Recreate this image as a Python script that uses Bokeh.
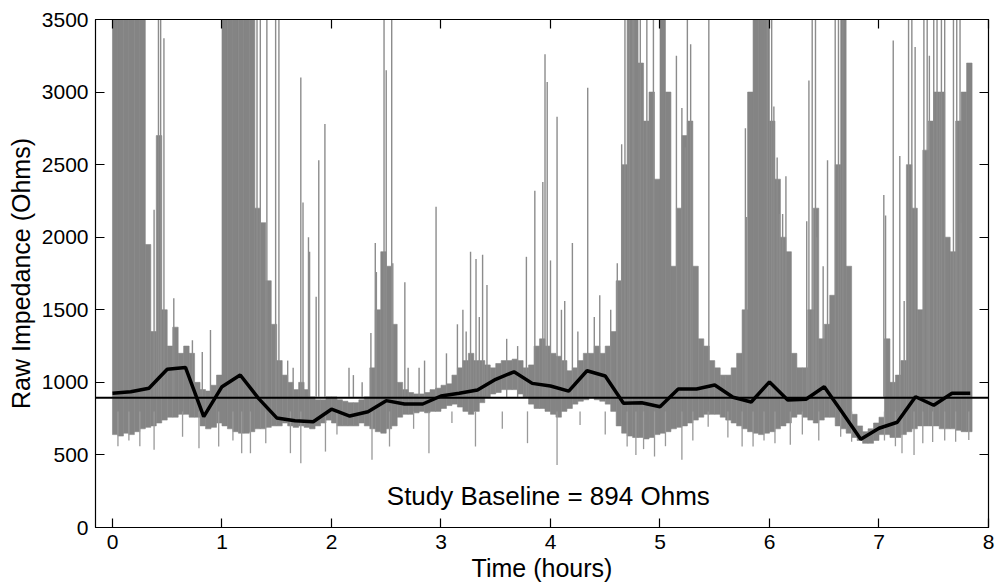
from bokeh.plotting import figure
from bokeh.models import Range1d, LinearAxis, Span, ColumnDataSource
from bokeh.core.properties import value
from bokeh.embed import file_html
from bokeh.resources import INLINE

# ---------------- data ----------------
# dense raw-impedance band, 0.05 h bins starting at t = 0.00 h (upper / lower edge of the solid gray mass)
band_hi = [
    3500, 3500, 3500, 3500, 3500, 3500, 1950, 1350, 2700, 1500, 1250, 1380, 1200, 1250, 1200, 1000, 950, 940, 980, 1050,   # 0 h
    3500, 3500, 3500, 3500, 3500, 3500, 2200, 2100, 1700, 1400, 1150, 1050, 1000, 950, 1000, 950, 900, 880, 880, 900,      # 1 h
    900, 880, 870, 860, 860, 880, 900, 1100, 1500, 1900, 1800, 1400, 1000, 950, 930, 920, 920, 930, 950, 960,              # 2 h
    980, 990, 1050, 1100, 1150, 1200, 1150, 1150, 1120, 1100, 1130, 1150, 1150, 1160, 1150, 1100, 1120, 1250, 1300, 1250,  # 3 h
    1200, 1180, 1150, 1080, 1100, 1150, 1200, 1200, 1250, 1200, 1250, 1350, 1700, 2500, 3500, 3500, 3200, 2800, 3000, 2400,  # 4 h
    3500, 3000, 1800, 2200, 2700, 2800, 1800, 1300, 1250, 1150, 1100, 1050, 1050, 1100, 1200, 1500, 3000, 3500, 3500, 3500,  # 5 h
    2800, 2400, 2000, 1900, 1200, 1100, 1100, 1500, 2200, 1300, 1400, 1600, 2500, 3500, 1800, 780, 700, 660, 680, 720,     # 6 h
    760, 1300, 1000, 1050, 1150, 2500, 2200, 1500, 2600, 2800, 3000, 3000, 2000, 1900, 2800, 3000, 3200,                   # 7 h
]
band_lo = [
    640, 630, 650, 640, 660, 680, 690, 700, 720, 740, 760, 760, 780, 780, 760, 760, 700, 680, 690, 720,
    700, 680, 660, 650, 650, 660, 680, 680, 690, 700, 700, 720, 700, 690, 700, 690, 680, 700, 720, 740,
    720, 700, 700, 700, 700, 720, 700, 680, 660, 650, 680, 700, 760, 780, 780, 790, 800, 790, 800, 800,
    820, 840, 850, 830, 800, 780, 800, 860, 900, 920, 930, 950, 950, 950, 920, 900, 850, 820, 820, 800,
    780, 760, 800, 820, 850, 870, 880, 900, 880, 870, 850, 800, 700, 650, 630, 620, 620, 610, 620, 640,
    650, 660, 680, 690, 700, 720, 740, 760, 780, 780, 780, 760, 740, 720, 700, 680, 660, 650, 640, 650,
    660, 680, 700, 720, 760, 780, 760, 740, 720, 740, 760, 760, 700, 680, 650, 620, 600, 580, 580, 600,
    640, 640, 620, 620, 640, 660, 680, 700, 700, 700, 700, 680, 680, 680, 670, 660, 660,
]

# isolated tall excursions (time h, peak Ohms)
spike_t = [0.38, 0.42, 0.44, 0.47, 0.56, 0.73, 0.82, 0.895, 1.32, 1.35, 1.41, 1.49, 1.52, 1.60, 1.65,
           1.72, 1.74, 1.79, 1.80, 1.86, 1.884, 1.94, 2.16, 2.20, 2.28, 2.36, 2.40, 2.41, 2.48, 2.50,
           2.55, 2.56, 2.67, 2.70, 2.80, 2.85, 2.955, 3.05, 3.15, 3.20, 3.23, 3.27, 3.32, 3.35, 3.38,
           3.42, 3.60, 3.70, 3.78, 3.857, 3.93, 3.95, 3.97, 4.00, 4.06, 4.10, 4.13, 4.20, 4.25, 4.34,
           4.40, 4.45, 4.55, 4.61, 4.65, 4.68, 4.72, 4.76, 4.82, 4.88, 4.94, 5.15, 5.20, 5.23, 5.25,
           5.28, 5.446, 5.78, 5.79, 5.98, 6.02, 6.04, 6.07, 6.09, 6.12, 6.15, 6.34, 6.36, 6.39, 6.42,
           6.43, 6.49, 6.53, 6.60, 6.63, 6.67, 7.044, 7.06, 7.13, 7.19, 7.23, 7.27, 7.30, 7.33, 7.41,
           7.44, 7.46, 7.50, 7.53, 7.57, 7.60, 7.68, 7.71, 7.74, 7.75]
spike_top = [2190, 3500, 3500, 3370, 1580, 1290, 1210, 1360, 3500, 3500, 3500, 3500, 3500, 1150, 1100,
             3100, 2240, 2000, 1900, 1590, 2530, 2780, 1100, 1050, 1000, 1340, 1960, 1760, 3500, 3150,
             3500, 1820, 1690, 1100, 1100, 1150, 2210, 1200, 1400, 1500, 1350, 1900, 1850, 1450, 1880,
             1670, 1300, 1250, 1865, 2320, 2380, 3260, 3070, 1840, 2830, 1500, 1560, 1960, 1350, 3030,
             1450, 1600, 1500, 1820, 2640, 3500, 3500, 3500, 3500, 3500, 3500, 3250, 2890, 2620, 3500,
             3330, 3500, 2750, 2140, 3500, 3500, 2900, 2550, 2160, 2160, 2420, 2110, 3080, 3500, 3500,
             2000, 1800, 2530, 3500, 3500, 3500, 2290, 2150, 3355, 2560, 1560, 3500, 3500, 3310, 3500,
             3500, 3250, 3500, 3500, 3500, 3500, 3500, 3500, 3500, 2100]

# downward excursions (time h, lowest Ohms)
dip_t = [0.05, 0.15, 0.25, 0.38, 0.64, 0.79, 0.97, 1.10, 1.18, 1.26, 1.40, 1.625, 1.72, 1.945, 2.05,
         2.37, 2.53, 2.75, 2.89, 3.10, 3.315, 3.56, 3.79, 4.06, 4.27, 4.50, 4.70, 4.78, 4.85, 4.95,
         5.05, 5.20, 5.30, 5.44, 5.62, 5.75, 5.85, 5.95, 6.05, 6.19, 6.30, 6.45, 6.65, 6.75, 7.05,
         7.15, 7.21, 7.32, 7.40, 7.49, 7.60, 7.70, 7.82]
dip_low = [560, 600, 560, 535, 626, 546, 558, 600, 512, 512, 580, 512, 443, 523, 640,
           466, 558, 680, 512, 720, 558, 680, 581, 431, 706, 640, 558, 500, 540, 489,
           560, 466, 600, 695, 620, 558, 558, 600, 580, 570, 640, 600, 626, 590, 600,
           560, 512, 500, 580, 589, 600, 590, 603]

# 10-minute averages (minutes, Ohms)
mean_min = [0, 10, 20, 30, 40, 50, 60, 70, 80, 90, 100, 110, 120, 130, 140, 150, 160, 170, 180, 190,
            200, 210, 220, 230, 240, 250, 260, 270, 280, 290, 300, 310, 320, 330, 340, 350, 360, 370,
            380, 390, 400, 410, 420, 430, 440, 450, 460, 470]
mean_ohm = [925, 935, 959, 1090, 1103, 764, 970, 1051, 890, 755, 735, 729, 815, 768, 798, 874, 851, 851,
            906, 925, 947, 1021, 1073, 993, 975, 940, 1080, 1044, 856, 860, 832, 954, 954, 982, 897, 865,
            1003, 879, 884, 970, 790, 608, 684, 725, 901, 842, 925, 925]

baseline_ohm = 894
baseline_label = "Study Baseline = 894 Ohms"
x_ticks = [0, 1, 2, 3, 4, 5, 6, 7, 8]
y_ticks = [0, 500, 1000, 1500, 2000, 2500, 3000, 3500]

# ---------------- figure ----------------
FONT = "Liberation Sans"
p = figure(width=996, height=584, x_range=Range1d(-0.155, 8.0), y_range=Range1d(0, 3500),
           output_backend="svg", toolbar_location=None,
           min_border_left=95, min_border_right=8, min_border_top=19, min_border_bottom=56,
           x_axis_label="Time (hours)", y_axis_label="Raw Impedance (Ohms)")
p.xgrid.visible = False
p.ygrid.visible = False
p.outline_line_color = "black"
p.background_fill_color = "white"
p.border_fill_color = "white"

BAND_STEP = 0.05
band_t = [round(BAND_STEP * (i + 0.5), 3) for i in range(len(band_hi))]
band_src = ColumnDataSource(dict(t=band_t, hi=band_hi, lo=band_lo))
p.vbar(x="t", top="hi", bottom="lo", width=BAND_STEP, source=band_src,
       fill_color="#848484", line_color="#848484", line_width=0.6)

spike_src = ColumnDataSource(dict(t=spike_t, top=spike_top, base=[900] * len(spike_t)))
p.segment(x0="t", y0="base", x1="t", y1="top", source=spike_src, line_color="#8c8c8c", line_width=1.4)

dip_src = ColumnDataSource(dict(t=dip_t, low=dip_low, base=[800] * len(dip_t)))
p.segment(x0="t", y0="base", x1="t", y1="low", source=dip_src, line_color="#999999", line_width=1.3)

p.add_layout(Span(location=baseline_ohm, dimension="width", line_color="black", line_width=2))

mean_t = [m / 60 for m in mean_min]
p.line(mean_t, mean_ohm, line_color="black", line_width=3.5)

p.text(x=[3.98], y=[218], text=[baseline_label], text_align="center", text_baseline="alphabetic",
       text_font=value(FONT), text_font_size="26px", text_color="black")


def style_axis(ax, labels=True):
    ax.axis_line_color = "black"
    ax.axis_line_width = 1.2
    ax.major_tick_line_color = "black"
    ax.major_tick_line_width = 1.2
    ax.major_tick_in = 9
    ax.major_tick_out = 0
    ax.minor_tick_line_color = None
    ax.major_label_text_font = FONT
    ax.axis_label_text_font = FONT
    ax.axis_label_text_font_style = "normal"
    ax.axis_label_text_color = "black"
    if labels:
        ax.major_label_text_color = "black"
        ax.major_label_text_font_size = "21px"
        ax.major_label_standoff = 7
        ax.axis_label_text_font_size = "25px"
        ax.axis_label_standoff = 4
    else:
        # tick marks only: labels are not drawn at all
        ax.major_label_text_color = None
        ax.major_label_text_font_size = "1px"
        ax.major_label_standoff = 0


p.xaxis.ticker = x_ticks
p.yaxis.ticker = y_ticks
style_axis(p.xaxis[0])
style_axis(p.yaxis[0])
p.xaxis[0].axis_label_standoff = 2

top_ax = LinearAxis(ticker=x_ticks)
right_ax = LinearAxis(ticker=y_ticks)
style_axis(top_ax, labels=False)
style_axis(right_ax, labels=False)
p.add_layout(top_ax, "above")
p.add_layout(right_ax, "right")

open("out.html", "w").write(file_html(p, INLINE))
